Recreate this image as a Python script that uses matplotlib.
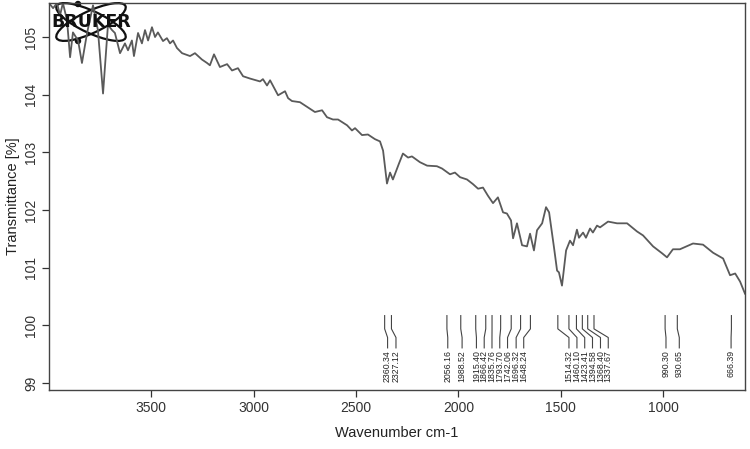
import matplotlib
matplotlib.use('Agg')
import matplotlib.pyplot as plt
from matplotlib.patches import Ellipse

plt.rcParams['font.family'] = ['Liberation Sans', 'DejaVu Sans']

# spectrum (wavenumber cm-1, transmittance %)
wavenumber = [4000, 3980, 3961, 3946, 3932, 3912, 3897, 3883, 3858, 3839,
              3814, 3785, 3761, 3736, 3712, 3692, 3678, 3653, 3629, 3614,
              3595, 3585, 3565, 3546, 3531, 3516, 3497, 3482, 3468, 3443,
              3424, 3409, 3394, 3375, 3350, 3311, 3287, 3253, 3228, 3214,
              3194, 3165, 3130, 3106, 3077, 3052, 3018, 2969, 2955, 2935,
              2920, 2881, 2847, 2832, 2813, 2774, 2735, 2701, 2666, 2642,
              2613, 2588, 2544, 2520, 2505, 2471, 2442, 2408, 2383, 2368,
              2349, 2334, 2320, 2290, 2271, 2246, 2227, 2188, 2153, 2105,
              2080, 2041, 2017, 1992, 1958, 1929, 1904, 1880, 1856, 1831,
              1807, 1782, 1763, 1743, 1733, 1714, 1689, 1665, 1650, 1631,
              1616, 1591, 1572, 1557, 1533, 1518, 1509, 1494, 1474, 1455,
              1440, 1421, 1411, 1391, 1377, 1357, 1343, 1323, 1308, 1269,
              1225, 1176, 1128, 1098, 1049, 1005, 981, 952, 918, 854,
              805, 756, 707, 673, 648, 624, 600]
transmittance = [105.59, 105.50, 105.59, 105.38, 105.59, 105.29, 104.65, 105.08, 104.94, 104.55,
                 105.07, 105.55, 105.12, 104.02, 105.21, 105.12, 105.07, 104.72, 104.89, 104.77,
                 104.94, 104.67, 105.07, 104.89, 105.12, 104.94, 105.17, 105.00, 105.08, 104.93,
                 104.98, 104.89, 104.94, 104.81, 104.72, 104.67, 104.72, 104.61, 104.55, 104.51,
                 104.70, 104.48, 104.53, 104.42, 104.46, 104.32, 104.28, 104.23, 104.27, 104.16,
                 104.25, 103.99, 104.06, 103.94, 103.89, 103.87, 103.78, 103.70, 103.73, 103.61,
                 103.57, 103.57, 103.47, 103.38, 103.42, 103.30, 103.31, 103.23, 103.19, 103.03,
                 102.46, 102.65, 102.53, 102.81, 102.98, 102.91, 102.93, 102.83, 102.77, 102.76,
                 102.72, 102.62, 102.65, 102.57, 102.53, 102.45, 102.37, 102.39, 102.25, 102.12,
                 102.22, 101.96, 101.94, 101.82, 101.51, 101.77, 101.39, 101.37, 101.59, 101.30,
                 101.65, 101.77, 102.05, 101.96, 101.35, 100.95, 100.92, 100.69, 101.30, 101.47,
                 101.39, 101.66, 101.52, 101.61, 101.52, 101.68, 101.61, 101.73, 101.70, 101.80,
                 101.77, 101.77, 101.63, 101.56, 101.37, 101.25, 101.18, 101.32, 101.32, 101.42,
                 101.40, 101.26, 101.16, 100.87, 100.90, 100.76, 100.55]

# picked peaks and where their labels sit
peaks = [2360.34, 2327.12, 2056.16, 1988.52, 1915.40, 1866.42, 1835.76, 1793.70,
         1742.06, 1696.32, 1648.24, 1514.32, 1460.10, 1423.41, 1394.58, 1368.40,
         1337.67, 990.30, 930.65, 666.39]
label_wn = [2346, 2305, 2052, 1982, 1912, 1874, 1836, 1798,
            1760, 1718, 1681, 1460, 1421, 1383, 1345, 1306,
            1268, 986, 921, 668]

xticks = [3500, 3000, 2500, 2000, 1500, 1000]
yticks = [99, 100, 101, 102, 103, 104, 105]

fig = plt.figure(figsize=(7.5, 4.49), dpi=100)
ax = fig.add_axes([49 / 750, 59 / 449, 696 / 750, 387 / 449])
ax.plot(wavenumber, transmittance, color='#5a5a5a', lw=1.3)
ax.set_xlim(4000, 600)
ax.set_ylim(98.88, 105.59)

ax.set_xticks(xticks)
ax.set_yticks(yticks)
ax.tick_params(direction='out', length=5, width=0.9, colors='#333333', labelsize=10, pad=3)
for lab in ax.get_yticklabels():
    lab.set_rotation(90)
    lab.set_va('center')
for s in ax.spines.values():
    s.set_color('#444444')
    s.set_linewidth(1.0)

ax.set_xlabel('Wavenumber cm-1', fontsize=10.5, color='#222222', labelpad=8)
ax.set_ylabel('Transmittance [%]', fontsize=10.5, color='#222222', labelpad=3)

# peak marker lines and labels
top, b1, b2, bot = 100.17, 99.94, 99.79, 99.61
for p, lp in zip(peaks, label_wn):
    ax.plot([p, p, lp, lp], [top, b1, b2, bot], color='#444444', lw=0.8)
    ax.text(lp, bot - 0.04, f'{p:.2f}', rotation=90, ha='center', va='top',
            fontsize=6.3, color='#222222')

# Bruker logo
for ang in (25, -25):
    ax.add_patch(Ellipse((0.91, 4.27), 0.76, 0.22, angle=ang, fill=False, lw=1.6,
                         ec='#111111', transform=fig.dpi_scale_trans, clip_on=False))
for yy in (4.45, 4.08):
    ax.add_patch(Ellipse((0.78, yy), 0.05, 0.05, color='#111111',
                         transform=fig.dpi_scale_trans, clip_on=False))
fig.text(0.91 / 7.5, 4.27 / 4.49, 'BRUKER', fontsize=12.5, fontweight='bold',
         family='DejaVu Sans', ha='center', va='center', color='#111111')

fig.savefig('out.png', dpi=100)
